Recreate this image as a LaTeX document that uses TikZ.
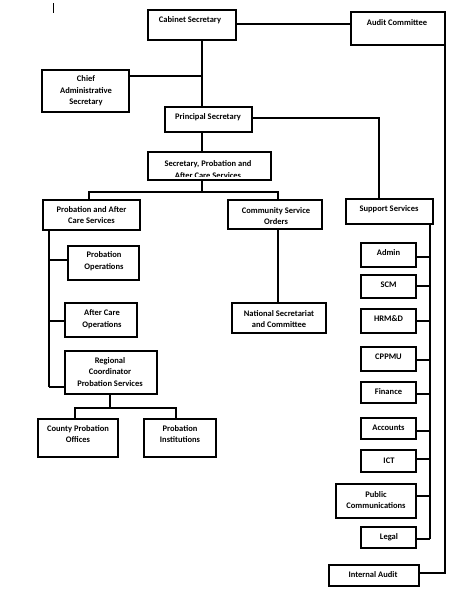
\documentclass[tikz,border=0pt]{standalone}
\usepackage{fontspec}
\setmainfont{Carlito}
\newcommand\lbl{\fontsize{8.5}{11.5}\selectfont\bfseries}
\tikzset{
  box/.style={draw, line width=1.7pt, inner sep=0pt, fill=white},
  txt/.style={font=\lbl, align=center, inner sep=0pt},
  conn/.style={line width=1.7pt}
}
\newcommand\mybox[5]{\node[box, minimum width=#4pt, minimum height=#5pt] (#1) at (#2,#3) {};}
\begin{document}
\begin{tikzpicture}[x=1pt,y=-1pt]
\useasboundingbox[fill=white] (0,0) rectangle (470,605);
% artifact cursor line
\coordinate (cur1) at (53,3);
\coordinate (cur2) at (53,13);
\draw[line width=0.9pt] (cur1) -- (cur2);
% boxes
\mybox{cs}{192}{25}{88}{30}
\mybox{ac}{398}{28.5}{94}{33}
\mybox{cas}{85.5}{91}{87}{42}
\mybox{ps}{208.5}{119.5}{87}{25}
\mybox{sec}{209.5}{166}{123}{28}
\mybox{pacs}{91.5}{215}{97}{30}
\mybox{cso}{275}{214.5}{94}{29}
\mybox{ss}{389.5}{211.5}{87}{25}
\mybox{po}{103.5}{263}{71}{34}
\mybox{aco}{101}{320}{72}{34}
\mybox{rc}{111}{372.5}{92}{43}
\mybox{cpo}{78}{438}{80}{38}
\mybox{pi}{180}{438}{72}{38}
\mybox{nsc}{279}{318}{94}{30}
\mybox{admin}{388.5}{255}{55}{24}
\mybox{scm}{388.5}{286.5}{55}{23}
\mybox{hrm}{388.5}{321}{55}{24}
\mybox{cppmu}{388.5}{359}{55}{24}
\mybox{fin}{388.5}{392.5}{55}{21}
\mybox{acc}{388.5}{428.5}{55}{21}
\mybox{ict}{388.5}{461}{55}{22}
\mybox{pc}{376}{501}{80}{34}
\mybox{legal}{388.5}{537.5}{55}{21}
\mybox{ia}{374}{575.5}{90}{21}
% helper coordinates
\coordinate (trunk) at (202,0);
\coordinate (casj) at (202,76);
\coordinate (sscol) at (379,118);
\coordinate (busj) at (202,192);
\coordinate (busl) at (89,192);
\coordinate (busr) at (278,192);
\coordinate (pl) at (49,0);
\coordinate (ptop) at (49,230);
\coordinate (pbot) at (49,387);
\coordinate (pac) at (49,321);
\coordinate (rcj) at (110,408);
\coordinate (rcl) at (75,408);
\coordinate (rcr) at (176,408);
\coordinate (sr) at (430,0);
\coordinate (ar) at (445,0);
\coordinate (iaj) at (445,573);
% connectors
\draw[conn] (cs.east |- 0,24) -- (ac.west |- 0,24);
\draw[conn] (trunk |- cs.south) -- (trunk |- ps.north);
\draw[conn] (cas.east |- casj) -- (casj);
\draw[conn] (trunk |- ps.south) -- (trunk |- sec.north);
\draw[conn] (ps.east |- sscol) -- (sscol) -- (sscol |- ss.north);
\draw[conn] (ar |- ac.south) -- (iaj) -- (ia.east |- iaj);
\draw[conn] (trunk |- sec.south) -- (busj);
\draw[conn] (busl |- pacs.north) -- (busl) -- (busr) -- (busr |- cso.north);
\draw[conn] (busr |- cso.south) -- (busr |- nsc.north);
\draw[conn] (ptop) -- (pbot);
\draw[conn] (pl |- 0,260) -- (po.west |- 0,260);
\draw[conn] (pac) -- (aco.west |- pac);
\draw[conn] (pbot) -- (rc.west |- pbot);
\draw[conn] (rcj |- rc.south) -- (rcj);
\draw[conn] (rcl |- cpo.north) -- (rcl) -- (rcr) -- (rcr |- pi.north);
\draw[conn] (sr |- ss.south) -- (sr |- 0,539);
\draw[conn] (admin.east |- 0,257) -- (sr |- 0,257);
\draw[conn] (scm.east |- 0,286) -- (sr |- 0,286);
\draw[conn] (hrm.east |- 0,321) -- (sr |- 0,321);
\draw[conn] (cppmu.east |- 0,360) -- (sr |- 0,360);
\draw[conn] (fin.east |- 0,394) -- (sr |- 0,394);
\draw[conn] (acc.east |- 0,431) -- (sr |- 0,431);
\draw[conn] (ict.east |- 0,459) -- (sr |- 0,459);
\draw[conn] (pc.east |- 0,496) -- (sr |- 0,496);
\draw[conn] (legal.east |- 0,539) -- (sr |- 0,539);
% texts
\node[txt] (cs-t) at (190,20) {Cabinet Secretary};
\node[txt] (ac-t) at (397,23) {Audit Committee};
\node[txt] (cas-t) at (86,91) {Chief\\Administrative\\Secretary};
\node[txt] (ps-t) at (208,117) {Principal Secretary};
\begin{scope}
\clip (149,153) rectangle (270,176.5);
\node[txt] (sec-t) at (208,169.5) {Secretary, Probation and\\After Care Services};
\end{scope}
\node[txt] (pacs-t) at (91.5,215) {Probation and After\\Care Services};
\node[txt] (cso-t) at (276,216) {Community Service\\Orders};
\node[txt] (ss-t) at (389,209) {Support Services};
\node[txt] (po-t) at (104,261) {Probation\\Operations};
\node[txt] (aco-t) at (102,319) {After Care\\Operations};
\node[txt] (rc-t) at (110,372) {Regional\\Coordinator\\Probation Services};
\node[txt] (cpo-t) at (78,434) {County Probation\\Offices};
\node[txt] (pi-t) at (180,434) {Probation\\Institutions};
\node[txt] (nsc-t) at (279,319) {National Secretariat\\and Committee};
\node[txt] (admin-t) at (388.5,253) {Admin};
\node[txt] (scm-t) at (388.5,284.5) {SCM};
\node[txt] (hrm-t) at (388.5,318.5) {HRM\&D};
\node[txt] (cppmu-t) at (388.5,356.5) {CPPMU};
\node[txt] (fin-t) at (388.5,392) {Finance};
\node[txt] (acc-t) at (388.5,428) {Accounts};
\node[txt] (ict-t) at (389,461) {ICT};
\node[txt] (pc-t) at (376,500) {Public\\Communications};
\node[txt] (legal-t) at (389,537) {Legal};
\node[txt] (ia-t) at (373,575) {Internal Audit};
\end{tikzpicture}
\end{document}
